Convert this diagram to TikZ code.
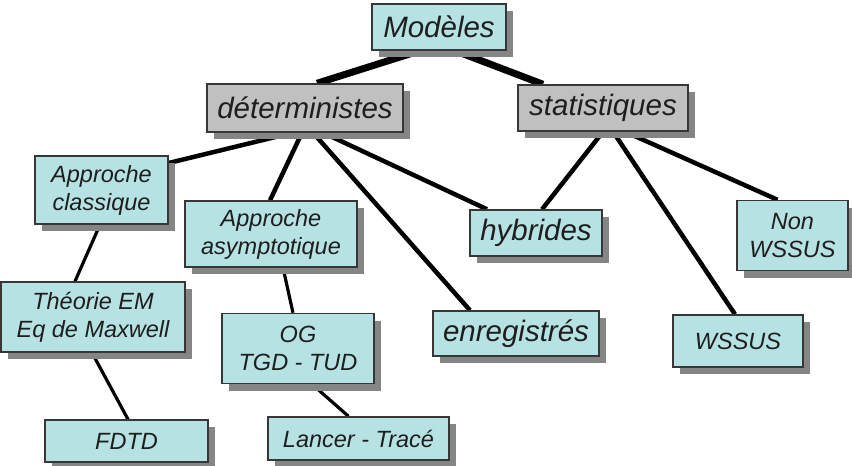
\documentclass[tikz,border=0pt]{standalone}
\usepackage{fontspec}
\setmainfont{Liberation Sans}
\usetikzlibrary{shadows}
\definecolor{boxcyan}{RGB}{183,226,228}
\definecolor{boxgray}{RGB}{192,192,192}
\definecolor{boxline}{RGB}{55,55,55}
\definecolor{txt}{RGB}{30,30,30}
\pgfdeclarelayer{background}
\pgfsetlayers{background,main}
\tikzset{
  box/.style={draw=boxline, line width=1.4pt, fill=boxcyan, inner sep=0pt,
    text=txt, align=center,
    drop shadow={shadow xshift=7pt, shadow yshift=-7pt, fill=black!48, opacity=1}},
  greybox/.style={box, fill=boxgray},
  big/.style={font=\fontsize{29.5}{34}\selectfont\itshape},
  small/.style={font=\fontsize{23.5}{28}\selectfont\itshape},
  linkA/.style={line width=7pt, black},
  linkB/.style={line width=4.5pt, black},
  linkC/.style={line width=3.2pt, black},
}
\begin{document}
\begin{tikzpicture}[x=1pt, y=-1pt]
\useasboundingbox (0,0) rectangle (852,466);

% nodes: centre, width and height
\node[box, big, minimum width=134pt, minimum height=46pt] (m) at (439,27) {Modèles};
\node[greybox, big, minimum width=196pt, minimum height=48pt] (d) at (305,108) {déterministes};
\node[greybox, big, minimum width=170pt, minimum height=46pt] (s) at (603,108) {statistiques};
\node[box, small, minimum width=133pt, minimum height=68pt] (ac) at (101.5,190) {Approche\\classique};
\node[box, small, minimum width=172pt, minimum height=66pt] (aa) at (271,234) {Approche\\asymptotique};
\node[box, big, minimum width=132pt, minimum height=46pt] (h) at (536,233) {hybrides};
\node[box, small, minimum width=111pt, minimum height=70pt] (nw) at (792.5,235.5) {Non\\WSSUS};
\node[box, small, minimum width=184pt, minimum height=70pt] (tem) at (93,317) {Théorie EM\\Eq de Maxwell};
\node[box, small, minimum width=152pt, minimum height=70pt] (og) at (298,348.5) {OG\\TGD - TUD};
\node[box, big, minimum width=166pt, minimum height=45pt] (e) at (516,333.5) {enregistrés};
\node[box, small, minimum width=130pt, minimum height=52pt] (w) at (738,341) {WSSUS};
\node[box, small, minimum width=163pt, minimum height=42pt] (f) at (126.5,441) {FDTD};
\node[box, small, minimum width=181pt, minimum height=43pt] (l) at (358.5,438.5) {Lancer - Tracé};

% connectors, kept under the boxes
\begin{pgfonlayer}{background}
  \draw[linkA] ([xshift=-19pt]m.south) -- ([xshift=12pt]d.north);
  \draw[linkA] ([xshift=16pt]m.south) -- ([xshift=-60pt]s.north);
  \draw[linkB] ([xshift=-12pt]d.south) -- ([yshift=27pt]ac.east);
  \draw[linkB] ([xshift=-3pt]d.south) -- ([xshift=-1pt]aa.north);
  \draw[linkB] ([xshift=8pt]d.south) -- ([xshift=-46pt]e.north);
  \draw[linkB] ([xshift=18pt]d.south) -- ([xshift=-49pt]h.north);
  \draw[linkB] (s.south) -- ([xshift=6pt]h.north);
  \draw[linkB] ([xshift=10pt]s.south) -- ([xshift=-3pt]w.north);
  \draw[linkB] ([xshift=22pt]s.south) -- ([xshift=-15pt]nw.north);
  \draw[linkC] ([xshift=-1.5pt]ac.south) -- ([xshift=-18pt]tem.north);
  \draw[linkC] ([xshift=-1pt]tem.south) -- ([xshift=1.5pt]f.north);
  \draw[linkC] ([xshift=12pt]aa.south) -- ([xshift=-5pt]og.north);
  \draw[linkC] ([xshift=14pt]og.south) -- ([xshift=-10pt]l.north);
\end{pgfonlayer}
\end{tikzpicture}
\end{document}
